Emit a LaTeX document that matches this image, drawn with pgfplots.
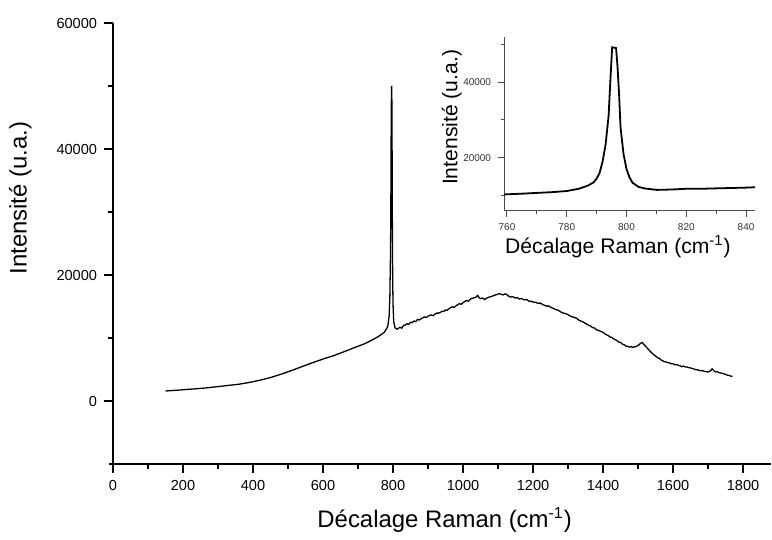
\documentclass[border=0pt]{standalone}
\usepackage{pgfplots}
\pgfplotsset{compat=1.18}
\usepackage{fontspec}
\setmainfont{Liberation Sans}
\begin{document}
\begin{tikzpicture}[x=1bp,y=1bp]
\path[use as bounding box] (0,0) rectangle (386,270);
\begin{axis}[
  at={(56.5bp,38bp)}, anchor=south west,
  scale only axis, width=329bp, height=220.5bp,
  xmin=0, xmax=1880, ymin=-10000, ymax=60000,
  axis x line*=bottom, axis y line*=left,
  axis line style={line width=0.9pt, shorten <=-2bp},
  tick align=outside,
  major tick length=4.5bp, minor tick length=2.5bp,
  every tick/.style={line width=0.8pt, black},
  xtick={0,200,...,1800}, minor x tick num=1,
  ytick={0,20000,40000,60000}, minor y tick num=1,
  scaled ticks=false,
  /pgf/number format/1000 sep={},
  /pgf/number format/assume math mode=true,
  tick label style={font=\fontsize{7.3}{8.5}\selectfont},
  label style={font=\fontsize{12}{14}\selectfont},
  xlabel={Décalage Raman (cm\textsuperscript{-1})},
  ylabel={Intensité (u.a.)},
  xlabel style={at={(axis description cs:0.504,-0.127)}, anchor=center},
  ylabel style={at={(axis description cs:-0.141,0.603)}, anchor=center},
]
\addplot[black, line width=0.65pt] coordinates {
(150,1590) (180,1700) (210,1830) (240,1950) (270,2100) (300,2290) (330,2480)
(360,2660) (390,2950) (420,3300) (450,3720) (480,4250) (510,4830) (540,5460)
(570,6080) (600,6660) (630,7190) (660,7820) (690,8480) (720,9110) (745,9820)
(760,10300) (775,10900) (785,11800) (789,13500) (791,16500) (793,24000)
(794,33000) (795,46000) (796,50000) (797,47000) (798,30000) (799,20000)
(800,15500) (802,12600) (806,11600) (812,11400) (820,11700) (825,11550) (830,12000)
(835,12050) (840,12250) (845,12150) (850,12500) (855,12450) (860,12700) (865,12600)
(870,12950) (875,12850) (880,13050) (885,13200) (890,13350) (895,13250)
(900,13450) (905,13600) (910,13650) (915,13550) (920,13800) (925,13950) (930,13950)
(935,14050) (940,14250) (945,14200) (950,14450) (955,14400) (960,14650) (965,14850)
(970,14950) (975,14850) (980,15100) (985,15300) (990,15450) (995,15350)
(1000,15600) (1005,15800) (1010,15950) (1015,15850) (1020,16100) (1025,16300)
(1030,16350) (1036,16450) (1042,16750) (1046,16400) (1050,16250) (1056,16350)
(1062,16100) (1068,16350) (1075,16500) (1082,16600) (1090,16800) (1097,16900)
(1105,17050) (1110,16900) (1115,16850) (1120,17000) (1125,16900) (1130,16650)
(1135,16500) (1142,16550) (1150,16350) (1155,16400) (1160,16200) (1168,16250)
(1175,16050) (1182,16100) (1190,15800) (1195,15850) (1200,15700) (1208,15650)
(1215,15500) (1220,15550) (1225,15400) (1232,15200) (1240,15050) (1245,15100)
(1250,14900) (1258,14700) (1265,14500) (1270,14450) (1275,14300) (1282,14050)
(1290,13900) (1295,13850) (1300,13700) (1308,13450) (1315,13300) (1320,13250)
(1325,13100) (1332,12800) (1340,12600) (1345,12500) (1350,12300) (1358,12050)
(1365,11900) (1370,11650) (1375,11600) (1382,11300) (1390,11150) (1395,11000)
(1400,10900) (1408,10550) (1415,10400) (1420,10150) (1425,10100) (1432,9800)
(1440,9600) (1445,9350) (1450,9300) (1456,9000) (1462,8900) (1466,8700)
(1470,8700) (1475,8550) (1480,8650) (1485,8500) (1490,8600) (1495,8650)
(1500,8800) (1506,9100) (1512,9300) (1518,8900) (1525,8500) (1532,8050)
(1540,7600) (1545,7350) (1550,7150) (1555,6900) (1560,6800) (1565,6550)
(1570,6400) (1575,6250) (1580,6200) (1585,6100) (1590,6050) (1595,5900)
(1600,5900) (1605,5750) (1610,5800) (1615,5650) (1620,5600) (1625,5450)
(1630,5550) (1635,5400) (1640,5400) (1645,5300) (1650,5250) (1655,5150)
(1660,5100) (1665,4950) (1670,4950) (1675,4850) (1680,4800) (1685,4800)
(1690,4700) (1695,4650) (1700,4600) (1706,4750) (1712,5100) (1717,4800)
(1722,4600) (1727,4650) (1732,4500) (1736,4450) (1740,4400) (1744,4350)
(1748,4250) (1752,4200) (1755,4100) (1758,4100) (1762,4000) (1766,3950) (1770,3900)
};
\end{axis}
\begin{axis}[
  at={(252bp,164.65bp)}, anchor=south west,
  scale only axis, width=125.5bp, height=87bp,
  xmin=759, xmax=843, ymin=6000, ymax=52000,
  axis x line*=bottom, axis y line*=left,
  axis line style={line width=0.5pt, black!70},
  tick align=outside,
  major tick length=3bp, minor tick length=1.6bp,
  every tick/.style={line width=0.5pt, black!70},
  xtick={760,780,...,840}, minor x tick num=1,
  ytick={20000,40000}, minor ytick={10000,30000,50000},
  scaled ticks=false,
  /pgf/number format/1000 sep={},
  /pgf/number format/assume math mode=true,
  tick label style={font=\fontsize{5}{6}\selectfont, black!80},
  label style={font=\fontsize{10.6}{12}\selectfont},
  xlabel={Décalage Raman (cm\textsuperscript{-1})},
  ylabel={Intensité (u.a.)},
  xlabel style={at={(axis description cs:0.454,-0.207)}, anchor=center},
  ylabel style={at={(axis description cs:-0.208,0.536)}, anchor=center},
]
\addplot[black, line width=0.9pt] coordinates {
(759,10300) (765,10500) (770,10700) (775,10900) (780,11200) (784,11800)
(787,12600) (789,13500) (790,14500) (791,16000) (792,19000) (793,23500)
(794,31000) (794.7,42000) (795.2,49200) (796.5,49000) (797,44000)
(797.5,37000) (798,28000) (799,21000) (800,17000) (801,14800) (802,13400)
(804,12300) (806,11900) (810,11500) (815,11600) (820,11800) (825,11800)
(830,11900) (835,12000) (840,12100) (843,12200)
};
\end{axis}
\end{tikzpicture}
\end{document}
